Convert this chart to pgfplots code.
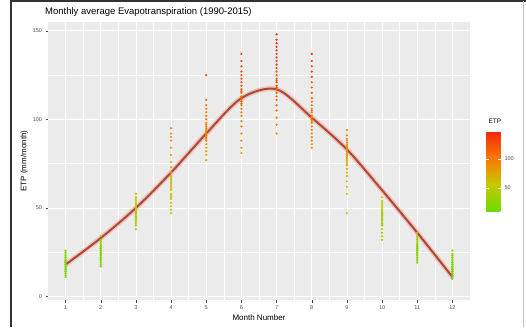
\documentclass[border=0pt]{standalone}
\usepackage{fontspec}
\setmainfont{Liberation Sans}
\usepackage{pgfplots}
\pgfplotsset{compat=1.18}
\usepackage{pgfplotstable}
\definecolor{panelbg}{RGB}{235,235,235}
\definecolor{ticktxt}{RGB}{77,77,77}
\definecolor{curve}{RGB}{172,72,62}
\definecolor{halo}{RGB}{240,170,150}
\pgfplotstableread{
x y
1 11
1 12
1 13
1 14
1 14
1 15
1 16
1 16
1 17
1 17
1 18
1 18
1 19
1 19
1 20
1 20
1 21
1 22
1 22
1 23
1 24
1 25
1 26
1 15
1 18
1 20
2 17
2 18
2 19
2 20
2 21
2 22
2 22
2 23
2 24
2 24
2 25
2 25
2 26
2 27
2 27
2 28
2 29
2 30
2 31
2 32
2 34
2 23
2 26
2 28
2 21
2 25
3 38
3 40
3 41
3 42
3 43
3 44
3 45
3 45
3 46
3 47
3 47
3 48
3 49
3 50
3 50
3 51
3 52
3 53
3 54
3 55
3 56
3 58
3 44
3 48
3 50
3 52
4 47
4 49
4 51
4 53
4 55
4 57
4 58
4 60
4 62
4 63
4 65
4 66
4 68
4 70
4 73
4 76
4 80
4 84
4 88
4 90
4 92
4 95
4 61
4 64
4 67
4 56
5 77
5 80
5 82
5 84
5 86
5 88
5 89
5 90
5 91
5 92
5 93
5 94
5 95
5 96
5 97
5 98
5 100
5 102
5 104
5 106
5 108
5 111
5 125
5 90
5 93
5 96
6 81
6 84
6 88
6 92
6 96
6 99
6 102
6 104
6 106
6 108
6 110
6 111
6 113
6 115
6 117
6 119
6 121
6 123
6 125
6 127
6 130
6 133
6 137
6 109
6 112
6 116
7 92
7 97
7 101
7 105
7 108
7 111
7 113
7 115
7 117
7 119
7 121
7 123
7 125
7 127
7 129
7 131
7 133
7 135
7 137
7 139
7 141
7 143
7 145
7 148
7 118
7 122
8 84
8 86
8 88
8 90
8 92
8 94
8 96
8 98
8 100
8 102
8 104
8 106
8 108
8 110
8 112
8 115
8 118
8 121
8 124
8 127
8 130
8 133
8 137
8 99
8 101
8 105
9 47
9 58
9 62
9 65
9 68
9 70
9 72
9 74
9 75
9 76
9 78
9 79
9 80
9 81
9 82
9 83
9 84
9 85
9 86
9 87
9 88
9 89
9 91
9 94
9 77
9 80
10 32
10 34
10 36
10 38
10 40
10 41
10 42
10 43
10 44
10 45
10 46
10 47
10 48
10 49
10 50
10 51
10 52
10 53
10 54
10 56
10 44
10 46
10 48
10 41
10 43
10 47
11 19
11 20
11 21
11 22
11 23
11 24
11 25
11 25
11 26
11 27
11 27
11 28
11 29
11 30
11 31
11 32
11 33
11 34
11 36
11 24
11 26
11 28
11 22
11 25
11 27
11 29
12 10
12 11
12 12
12 13
12 13
12 14
12 14
12 15
12 15
12 16
12 16
12 17
12 17
12 18
12 18
12 19
12 20
12 21
12 22
12 23
12 24
12 26
12 14
12 16
12 17
12 19
}\points
\pgfplotstableread{
x y
1 18
2 33
3 50
4 70
5 92
6 112
7 117
8 101
9 83
10 60
11 36
12 11
}\meancurve
\begin{document}
\begin{tikzpicture}
\path[use as bounding box] (0,0) rectangle (526pt,327pt);
\draw[line width=2pt, black!80] (11pt,0) -- (11pt,326pt) -- (526pt,326pt);
\draw[line width=0.6pt, black!25] (523pt,0) -- (523pt,326pt);
\node[anchor=base west, font=\fontsize{9.5}{11}\selectfont, inner sep=0] at (45pt,312pt) {Monthly average Evapotranspiration (1990-2015)};
\begin{axis}[
  at={(48pt,27pt)}, anchor=south west,
  scale only axis, width=422pt, height=278pt,
  xmin=0.5, xmax=12.5, ymin=-2, ymax=155,
  xtick={1,...,12}, ytick={0,50,100,150},
  minor xtick={1.5,2.5,...,11.5}, minor ytick={25,75,125},
  grid=both,
  major grid style={white, line width=0.8pt},
  minor grid style={white, line width=0.4pt},
  axis background/.style={fill=panelbg},
  axis line style={draw=none},
  tick align=outside, tick pos=left,
  major tick length=2.5pt, minor tick length=0pt,
  tick style={black!70, line width=0.5pt},
  ticklabel style={font=\fontsize{5.5}{6}\selectfont, text=ticktxt},
  /pgf/number format/assume math mode=true,
  xlabel={Month Number}, ylabel={ETP (mm/month)},
  label style={font=\fontsize{8}{9}\selectfont},
  xlabel style={yshift=2pt},
  ylabel style={yshift=-2pt},
  colormap={etp}{rgb255=(110,220,0) rgb255=(200,200,0) rgb255=(250,120,0) rgb255=(240,40,15)},
  point meta min=10, point meta max=148,
  colorbar,
  colorbar style={
    at={(1.038,0.32)}, anchor=south west,
    width=15pt, height=80pt,
    ytick={50,100}, yticklabel pos=right,
    tick style={white, line width=0.5pt}, major tick length=3pt,
    yticklabel style={font=\fontsize{5.5}{6}\selectfont, text=ticktxt},
    axis line style={draw=none},
    title={ETP}, title style={font=\fontsize{6.5}{7}\selectfont, anchor=south west, at={(0,1)}, yshift=-2pt, xshift=-1pt},
    /pgf/number format/assume math mode=true,
  },
]
\addplot[scatter, only marks, mark=*, mark size=0.9pt,
  scatter/use mapped color={draw=mapped color, fill=mapped color}]
  table[x=x, y=y] {\points};
\addplot[halo, line width=5pt, opacity=0.6, smooth, tension=0.5] table[x=x,y=y] {\meancurve};
\addplot[curve, line width=2pt, smooth, tension=0.5] table[x=x,y=y] {\meancurve};
\end{axis}
\end{tikzpicture}
\end{document}
